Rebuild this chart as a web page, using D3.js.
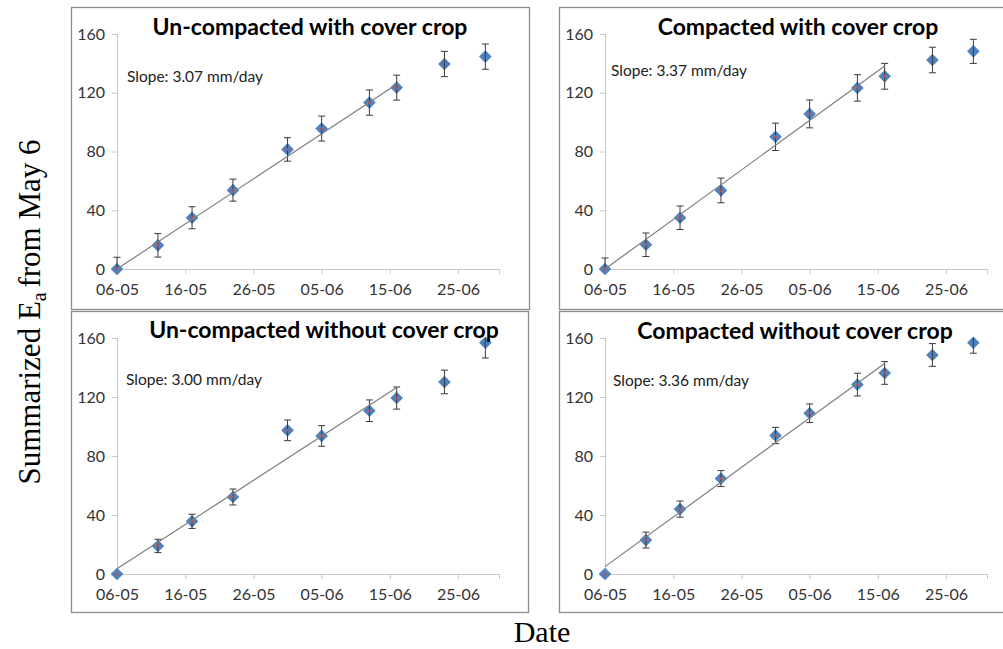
<!DOCTYPE html>
<html>
<head>
<meta charset="utf-8">
<script src="https://cdn.jsdelivr.net/npm/d3@7"></script>
<style>
  body { margin: 0; background: #fff; }
  svg { display: block; }
</style>
</head>
<body>
<div id="chart"></div>
<script>
// measurement dates (day-month)
const dates = ["2013-05-06", "2013-05-12", "2013-05-17", "2013-05-23", "2013-05-31",
  "2013-06-05", "2013-06-12", "2013-06-16", "2013-06-23", "2013-06-29"];
const tickDates = ["2013-05-06", "2013-05-16", "2013-05-26", "2013-06-05", "2013-06-15", "2013-06-25"];
const yTicks = [0, 40, 80, 120, 160];

const titles = [
  "Un-compacted with cover crop",
  "Compacted with cover crop",
  "Un-compacted without cover crop",
  "Compacted without cover crop"
];

// summarized Ea (mm) and error bar half-widths
const uncompCover = [0, 16.1, 34.9, 53.7, 81.4, 95.6, 113.3, 123.5, 139.6, 144.6];
const uncompCoverErr = [8, 8, 7.5, 7.5, 8, 8.5, 8.6, 8.5, 8.6, 8.6];
const compCover = [0, 16.5, 34.9, 53.5, 90, 105.6, 123.3, 131.2, 142.3, 148.2];
const compCoverErr = [7.5, 8, 8, 8.4, 9.3, 9.5, 9, 8.8, 8.7, 8.2];
const uncompBare = [0, 19, 35.7, 52.2, 97.4, 93.6, 110.7, 119.3, 130.2, 156.8];
const uncompBareErr = [0, 4.5, 4.8, 5.4, 7, 7, 7.3, 7.5, 8, 10.4];
const compBare = [0, 23, 44, 64.7, 93.9, 109, 128.4, 136.3, 148.5, 156.8];
const compBareErr = [0, 5.4, 5.5, 5.4, 5.5, 6.3, 7.7, 7.7, 7.7, 7.1];

// linear fit over the first 8 dates (May 6 - June 16)
const slopes = [3.07, 3.37, 3.00, 3.36];
const intercepts = [0, 0, 3.5, 5];
const fitCount = 8;

const values = [uncompCover, compCover, uncompBare, compBare];
const errors = [uncompCoverErr, compCoverErr, uncompBareErr, compBareErr];

const parse = d3.timeParse("%Y-%m-%d");
const fmt = d3.timeFormat("%d-%m");

const W = 1003, H = 649;
const svg = d3.select("#chart").append("svg")
  .attr("width", W).attr("height", H);

// panel frames and plot areas
const panels = [
  { box: [71, 7, 458, 302], plot: [117, 34, 382, 235], title: [310, 35], slope: [127, 82] },
  { box: [559, 7, 460, 302], plot: [605, 34, 382, 235], title: [798, 35], slope: [611, 76] },
  { box: [71, 311, 457, 301], plot: [117, 338, 382, 236], title: [324, 338], slope: [126, 385] },
  { box: [559, 311, 460, 301], plot: [605, 338, 382, 236], title: [795, 339], slope: [613, 386] }
];

const xDomain = [parse("2013-05-06"), parse("2013-07-01")];
const blue = "#4f81bd", red = "#c0504d";
const sansFont = "Lato, 'Open Sans', sans-serif";

panels.forEach((p, i) => {
  const [bx, by, bw, bh] = p.box;
  svg.append("rect")
    .attr("x", bx + 0.5).attr("y", by + 0.5)
    .attr("width", bw).attr("height", bh)
    .attr("fill", "#fff").attr("stroke", "#8c8c8c").attr("stroke-width", 1.3);

  const [px, py, pw, ph] = p.plot;
  const x = d3.scaleTime().domain(xDomain).range([px, px + pw]);
  const y = d3.scaleLinear().domain([0, 160]).range([py + ph, py]);

  const g = svg.append("g");

  // axes
  const xAxis = g.append("g")
    .attr("transform", `translate(0,${py + ph})`)
    .call(d3.axisBottom(x).tickValues(tickDates.map(parse)).tickFormat(fmt)
      .tickSizeOuter(0).tickSize(5).tickPadding(10));
  const yAxis = g.append("g")
    .attr("transform", `translate(${px},0)`)
    .call(d3.axisLeft(y).tickValues(yTicks).tickSizeOuter(0).tickSize(5).tickPadding(7));
  [xAxis, yAxis].forEach(a => {
    a.select(".domain").attr("stroke", "#c8c8c8");
    a.selectAll(".tick line").attr("stroke", "#c8c8c8");
    a.selectAll(".tick text")
      .attr("fill", "#333")
      .style("font-family", sansFont)
      .style("font-size", "16px");
  });

  const pts = dates.map((d, j) => ({ date: parse(d), v: values[i][j], e: errors[i][j] }));

  // blue diamonds (squares turned 45 degrees)
  const diamond = d3.symbol().type(d3.symbolSquare).size(80);
  g.selectAll(".pt").data(pts).enter().append("path")
    .attr("class", "pt")
    .attr("d", diamond)
    .attr("transform", d => `translate(${x(d.date)},${y(d.v)}) rotate(45)`)
    .attr("fill", blue);

  // error bars (clipped to the plot area)
  const clampY = v => y(Math.max(0, Math.min(160, v)));
  const eb = g.selectAll(".eb").data(pts.filter(d => d.e > 0)).enter().append("g")
    .attr("class", "eb")
    .attr("stroke", "#3a3a3a").attr("stroke-width", 1);
  eb.append("line")
    .attr("x1", d => x(d.date)).attr("x2", d => x(d.date))
    .attr("y1", d => clampY(d.v - d.e)).attr("y2", d => clampY(d.v + d.e));
  eb.filter(d => d.v + d.e <= 160).append("line")
    .attr("x1", d => x(d.date) - 3.5).attr("x2", d => x(d.date) + 3.5)
    .attr("y1", d => y(d.v + d.e)).attr("y2", d => y(d.v + d.e));
  eb.filter(d => d.v - d.e >= 0).append("line")
    .attr("x1", d => x(d.date) - 3.5).attr("x2", d => x(d.date) + 3.5)
    .attr("y1", d => y(d.v - d.e)).attr("y2", d => y(d.v - d.e));

  // trend line over the fitted period
  const d0 = pts[0].date, d1 = pts[fitCount - 1].date;
  const days = (d1 - d0) / 864e5;
  g.append("line")
    .attr("x1", x(d0)).attr("y1", y(intercepts[i]))
    .attr("x2", x(d1)).attr("y2", y(intercepts[i] + slopes[i] * days))
    .attr("stroke", "#7f7f7f").attr("stroke-width", 1.2);

  // red markers on fitted points
  g.selectAll(".fit").data(pts.slice(0, fitCount)).enter().append("path")
    .attr("class", "fit")
    .attr("d", d3.symbol().type(d3.symbolSquare).size(6))
    .attr("transform", d => `translate(${x(d.date)},${y(d.v)}) rotate(45)`)
    .attr("fill", red);

  // title
  svg.append("text")
    .attr("x", p.title[0]).attr("y", p.title[1])
    .attr("text-anchor", "middle")
    .style("font-family", sansFont)
    .style("font-weight", "bold")
    .style("font-size", "23px")
    .attr("fill", "#000")
    .text(titles[i]);

  // slope label
  svg.append("text")
    .attr("x", p.slope[0]).attr("y", p.slope[1])
    .style("font-family", sansFont)
    .style("font-size", "15.5px")
    .attr("fill", "#222")
    .text(`Slope: ${slopes[i].toFixed(2)} mm/day`);
});

// shared axis titles
const yLab = svg.append("text")
  .attr("transform", "translate(40,312) rotate(-90)")
  .attr("text-anchor", "middle")
  .style("font-family", "'Liberation Serif', 'Times New Roman', serif")
  .style("font-size", "31px")
  .attr("fill", "#000");
yLab.append("tspan").text("Summarized E");
yLab.append("tspan").attr("dy", 6).style("font-size", "20px").text("a");
yLab.append("tspan").attr("dy", -6).attr("dx", -3).text(" from May 6");

svg.append("text")
  .attr("x", 542).attr("y", 642)
  .attr("text-anchor", "middle")
  .style("font-family", "'Liberation Serif', 'Times New Roman', serif")
  .style("font-size", "30px")
  .attr("fill", "#000")
  .text("Date");
</script>
</body>
</html>
